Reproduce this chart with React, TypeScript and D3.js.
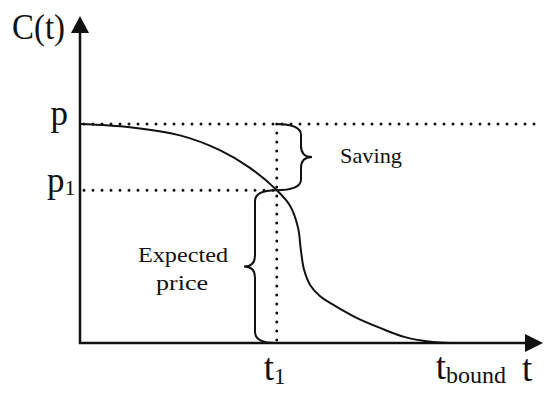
import * as d3 from 'd3'

// curve C(t)
const tVals = [0, 1.08, 2.16, 3.02, 3.67, 4.25, 4.54, 4.71, 4.77, 4.84, 4.97, 5.18, 5.51, 5.94, 6.48, 7.02, 7.62, 7.99]
const cVals = [6.68, 6.58, 6.33, 5.88, 5.34, 4.66, 4.18, 3.51, 2.84, 2.23, 1.77, 1.43, 1.13, 0.79, 0.46, 0.18, 0.03, 0]

const pVal = 6.68
const p1Val = 4.66
const t1Val = 4.25
const tBoundVal = 7.9

const W = 550
const H = 399
const FONT = "'Liberation Serif', 'DejaVu Serif', serif"

const x = d3.scaleLinear().domain([0, 10]).range([80, 543])
const y = d3.scaleLinear().domain([0, 10]).range([343, 15])

// curly brace opening toward x0, spine at xv, tip at xt
function brace(x0: number, y0: number, y1: number, xv: number, xt: number, r = 11) {
    const ym = (y0 + y1) / 2
    const p = d3.path()
    p.moveTo(x0, y0)
    p.quadraticCurveTo(xv, y0, xv, y0 + r)
    p.lineTo(xv, ym - r)
    p.quadraticCurveTo(xv, ym, xt, ym)
    p.quadraticCurveTo(xv, ym, xv, ym + r)
    p.lineTo(xv, y1 - r)
    p.quadraticCurveTo(xv, y1, x0, y1)
    return p.toString()
}

export default function App() {
    const pts = tVals.map((t, i) => [t, cVals[i]] as [number, number])
    const line = d3.line<[number, number]>()
        .x(d => x(d[0]))
        .y(d => y(d[1]))
        .curve(d3.curveCatmullRom.alpha(0.5))

    const x0 = x(0), xEnd = x(10)
    const y0 = y(0), yTop = y(10)
    const dot = { stroke: '#111', strokeWidth: 3, strokeDasharray: '0 9', strokeLinecap: 'round' as const }
    const txt = { fontFamily: FONT, fill: '#111' }

    return (
        <svg width={W} height={H} style={{ position: 'absolute', left: 0, top: 0, background: '#fff' }}>
            {/* dotted guides */}
            <line x1={x0 + 4} x2={538} y1={y(pVal)} y2={y(pVal)} {...dot} />
            <line x1={x0 + 4} x2={x(t1Val)} y1={y(p1Val)} y2={y(p1Val)} {...dot} />
            <line x1={x(t1Val)} x2={x(t1Val)} y1={y(pVal)} y2={y0 - 2} {...dot} />

            {/* braces */}
            <path d={brace(x(t1Val) - 1, y(pVal), y(p1Val), 301, 312)} fill="none" stroke="#111" strokeWidth={2} />
            <path d={brace(x(t1Val) - 1, y(p1Val), y0, 255, 244)} fill="none" stroke="#111" strokeWidth={2} />

            {/* curve */}
            <path d={line(pts) ?? ''} fill="none" stroke="#111" strokeWidth={2} />

            {/* axes */}
            <line x1={x0} x2={x0} y1={y0 + 1} y2={yTop + 14} stroke="#111" strokeWidth={2.5} />
            <line x1={x0 - 1} x2={xEnd - 14} y1={y0} y2={y0} stroke="#111" strokeWidth={2.5} />
            <path d={`M${x0},${yTop + 1}L${x0 - 9},${yTop + 18}L${x0 + 9},${yTop + 18}Z`} fill="#111" />
            <path d={`M${xEnd},${y0}L${xEnd - 18},${y0 - 9}L${xEnd - 18},${y0 + 9}Z`} fill="#111" />

            {/* labels */}
            <text style={txt} x={12} y={39} fontSize={35} textLength={53} lengthAdjust="spacingAndGlyphs">C(t)</text>
            <text style={txt} x={68} y={y(pVal) + 1} fontSize={35} textAnchor="end">p</text>
            <text style={txt} x={47} y={y(p1Val) + 2} fontSize={35}>p<tspan fontSize={22} dy={3}>1</tspan></text>
            <text style={txt} x={x(t1Val) - 13} y={380} fontSize={37}>t<tspan fontSize={23} dy={4}>1</tspan></text>
            <text style={txt} x={x(tBoundVal) - 10} y={379} fontSize={37}>t<tspan fontSize={24} dy={4}>bound</tspan></text>
            <text style={txt} x={522} y={381} fontSize={37}>t</text>
            <text style={txt} x={340} y={163} fontSize={22} textLength={62} lengthAdjust="spacingAndGlyphs">Saving</text>
            <text style={txt} x={138} y={262} fontSize={22} textLength={90} lengthAdjust="spacingAndGlyphs">Expected</text>
            <text style={txt} x={156} y={290} fontSize={22} textLength={52} lengthAdjust="spacingAndGlyphs">price</text>
        </svg>
    )
}
